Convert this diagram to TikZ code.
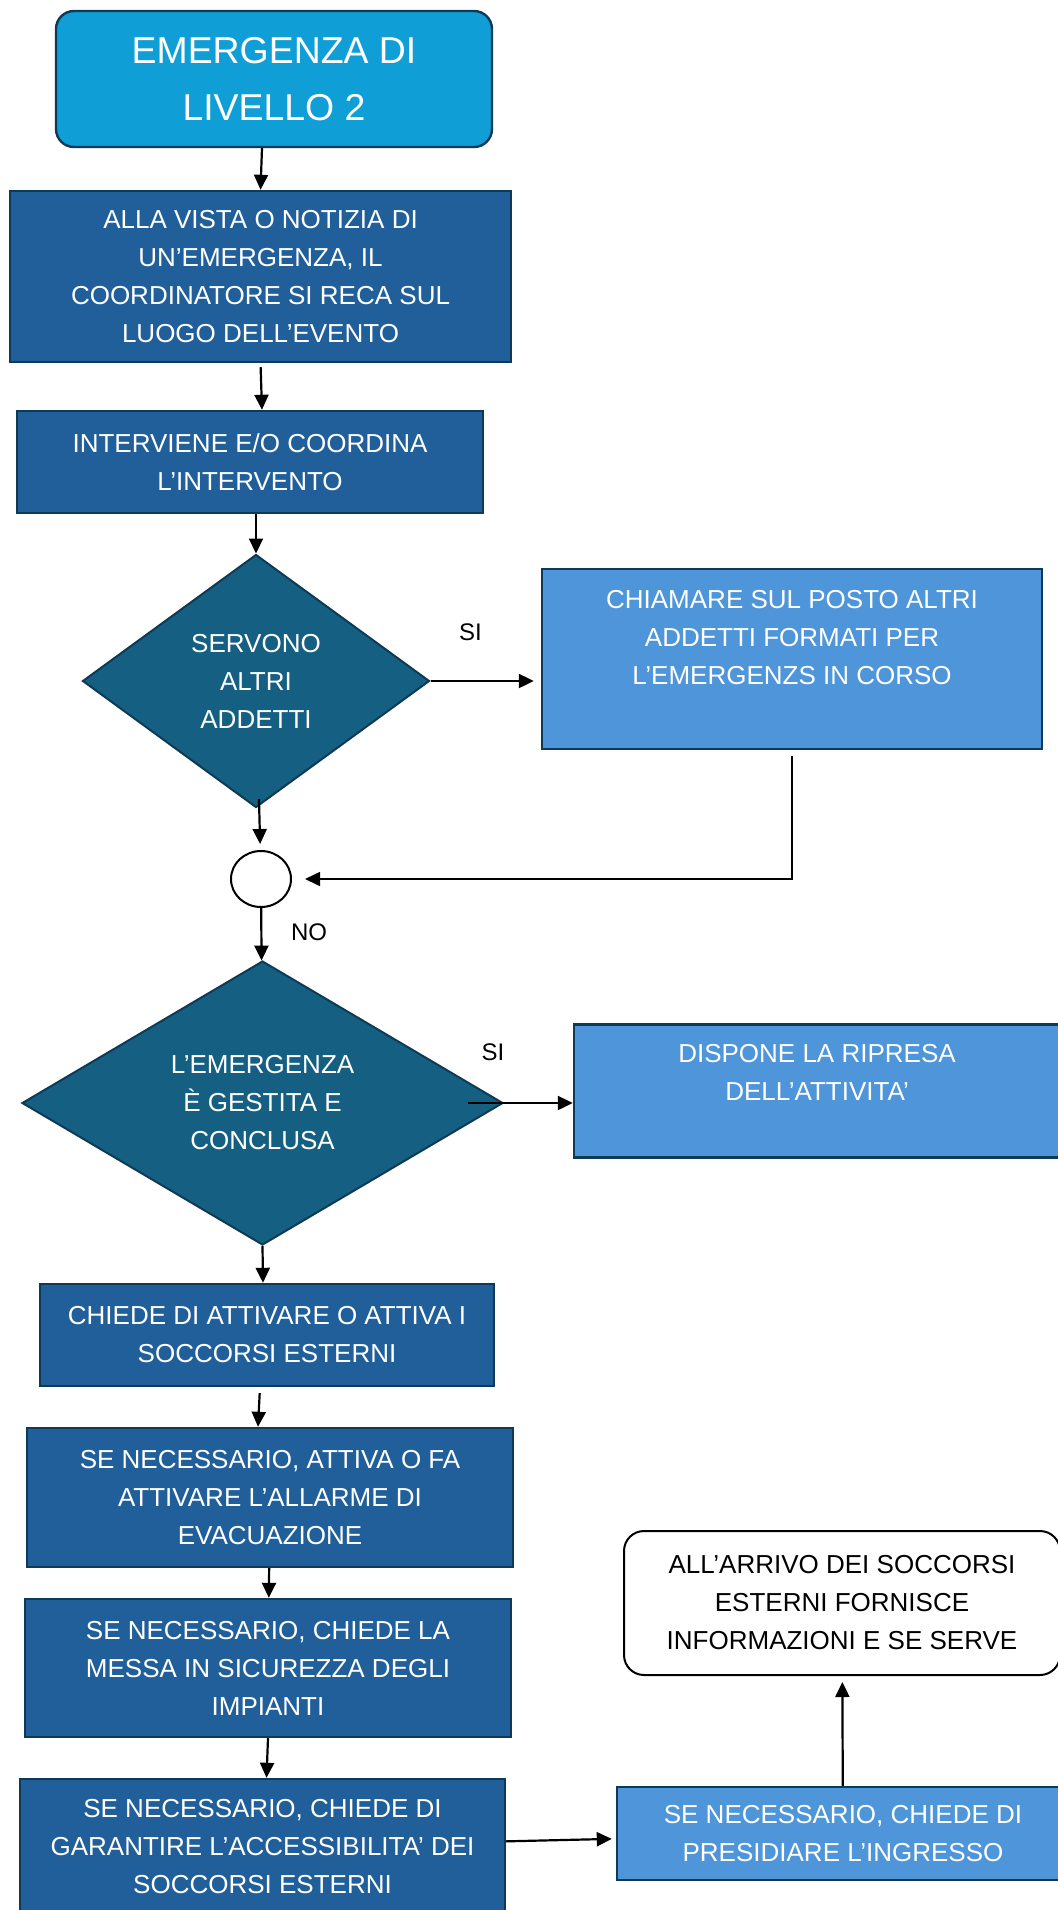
\documentclass[tikz,border=0pt]{standalone}
\usepackage{fontspec}
\setmainfont{Liberation Sans}
\usetikzlibrary{positioning,shapes.geometric,arrows.meta}

\definecolor{bordo}{HTML}{0E3A56}
\definecolor{azzurro}{HTML}{0F9ED5}
\definecolor{blu}{HTML}{215F9A}
\definecolor{petrolio}{HTML}{156082}
\definecolor{celeste}{HTML}{4E95D9}

\begin{document}
\begin{tikzpicture}[-,>={Triangle[length=7.5pt,width=7pt]},line width=1.1pt,
    box text/.style={text=white,align=center,font=\fontsize{13}{19}\selectfont,inner sep=0pt},
    start node/.style={rectangle,rounded corners=9pt,draw=bordo,line width=1.2pt,fill=azzurro,text=white,align=center,font=\fontsize{18.7}{28.5}\selectfont,minimum width=218pt,minimum height=68pt},
    main node/.style={rectangle,draw=bordo,line width=1.2pt,fill=blu,box text},
    side node/.style={rectangle,draw=bordo,line width=1.2pt,fill=celeste,box text},
    choice node/.style={diamond,draw=bordo,line width=1pt,fill=petrolio,box text},
    join node/.style={ellipse,draw=black,line width=1pt,fill=white,minimum width=30pt,minimum height=28pt},
    info node/.style={rectangle,rounded corners=10pt,draw=black,line width=1pt,fill=white,align=center,font=\fontsize{13}{19}\selectfont,inner sep=0pt},
    answer/.style={font=\fontsize{12}{14}\selectfont,text=black}]

            \useasboundingbox (0,0) rectangle (529pt,-955pt);

            \node[start node] (start) at (137pt,-39.5pt) {EMERGENZA DI\\LIVELLO 2};
            \node[main node, minimum width=250.5pt, minimum height=85.5pt, node distance=98.75pt] (vista) [below of = start, xshift=-6.75pt] {ALLA VISTA O NOTIZIA DI\\UN’EMERGENZA, IL\\COORDINATORE SI RECA SUL\\LUOGO DELL’EVENTO};
            \node[main node, minimum width=233pt, minimum height=51pt, node distance=92.75pt] (interv) [below of = vista, xshift=-5.25pt] {INTERVIENE E/O COORDINA\\L’INTERVENTO};
            \node[choice node, minimum width=173.5pt, minimum height=126.5pt, node distance=109.5pt] (dec1) [below of = interv, xshift=3pt] {SERVONO\\ALTRI\\ADDETTI};
            \node[side node, minimum width=250pt, minimum height=90pt, node distance=268pt] (chiama) [right of = dec1, yshift=11pt] {CHIAMARE SUL POSTO ALTRI\\ADDETTI FORMATI PER\\L’EMERGENZS IN CORSO\\[3pt]~};
            \node[join node, node distance=99pt] (merge) [below of = dec1, xshift=2.5pt] {};
            \node[choice node, minimum width=240.5pt, minimum height=142pt, node distance=112pt] (dec2) [below of = merge, xshift=0.75pt] {L’EMERGENZA\\È GESTITA E\\CONCLUSA};
            \node[side node, minimum width=243pt, minimum height=66.5pt, node distance=277.25pt] (ripresa) [right of = dec2, yshift=6pt] {DISPONE LA RIPRESA\\DELL’ATTIVITA’\\~};
            \node[main node, minimum width=227pt, minimum height=51pt, node distance=116pt] (chiede) [below of = dec2, xshift=2.25pt] {CHIEDE DI ATTIVARE O ATTIVA I\\SOCCORSI ESTERNI};
            \node[main node, minimum width=243pt, minimum height=69.5pt, node distance=81.25pt] (allarme) [below of = chiede, xshift=1.5pt] {SE NECESSARIO, ATTIVA O FA\\ATTIVARE L’ALLARME DI\\EVACUAZIONE};
            \node[main node, minimum width=243pt, minimum height=69pt, node distance=85.25pt] (impianti) [below of = allarme, xshift=-1pt] {SE NECESSARIO, CHIEDE LA\\MESSA IN SICUREZZA DEGLI\\IMPIANTI};
            \node[main node, minimum width=242.5pt, minimum height=68pt, node distance=89.5pt] (accesso) [below of = impianti, xshift=-2.75pt] {SE NECESSARIO, CHIEDE DI\\GARANTIRE L’ACCESSIBILITA’ DEI\\SOCCORSI ESTERNI};
            \node[side node, minimum width=226pt, minimum height=46.5pt, node distance=290.25pt] (ingresso) [right of = accesso, yshift=6.75pt] {SE NECESSARIO, CHIEDE DI\\PRESIDIARE L’INGRESSO};
            \node[info node, minimum width=218pt, minimum height=72pt, node distance=115.25pt] (arrivo) [above of = ingresso, xshift=-0.5pt] {ALL’ARRIVO DEI SOCCORSI\\ESTERNI FORNISCE\\INFORMAZIONI E SE SERVE};

            \node[answer] (si1) at ([xshift=20pt, yshift=24.5pt]dec1.east) {SI};
            \node[answer] (si2) at ([xshift=-5.5pt, yshift=25.5pt]dec2.east) {SI};
            \node[answer] (no) at ([xshift=24pt, yshift=-26.5pt]merge.center) {NO};

            % \path[every node/.style={font=\small}]

            \draw[->] ([xshift=-6pt]start.south) to (vista.north);
            \draw[->, shorten <=2pt] (vista.south) to ([xshift=6pt]interv.north);
            \draw[->] ([xshift=3pt]interv.south) to (dec1.north);
            \draw[->, shorten <=-3.5pt, shorten >=3pt] (dec1) to (merge);
            \draw[->] (merge) to (dec2);
            \draw[->] (dec2.south) to ([xshift=-2pt]chiede.north);
            \draw[->, shorten <=3pt] ([xshift=-3.5pt]chiede.south) to ([xshift=-6pt]allarme.north);
            \draw[->] (allarme) to (impianti);
            \draw[->] (impianti.south) to ([xshift=2pt]accesso.north);
            \draw[->, shorten >=3.5pt] (dec1.east) to (dec1.east -| chiama.west);
            \draw[->] ([xshift=-18pt]dec2.east) to (dec2.east -| ripresa.west);
            \draw[->, shorten >=2pt] (accesso) to (ingresso);
            \draw[->, shorten >=3pt] (ingresso) to (arrivo);
            \draw[->, line width=0.8pt, shorten <=3pt, shorten >=6.5pt] (chiama.south) |- (merge.east);

            ;
        \end{tikzpicture}
\end{document}
